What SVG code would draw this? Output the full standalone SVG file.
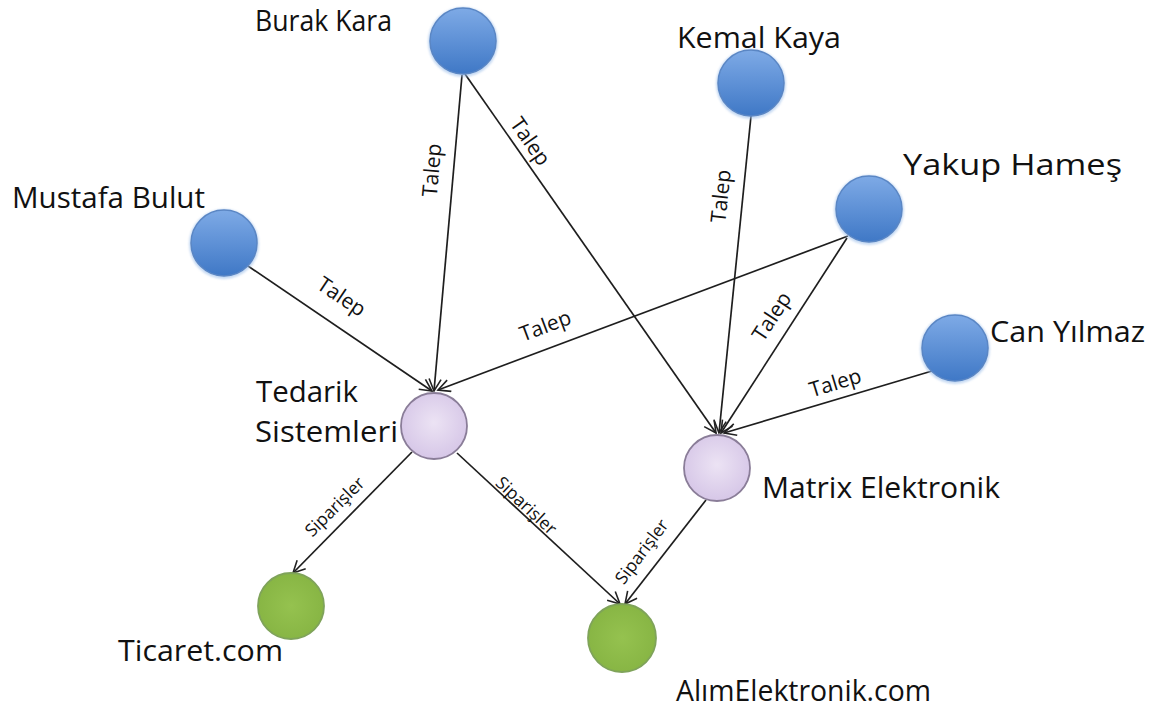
<svg xmlns="http://www.w3.org/2000/svg" width="1153" height="710" viewBox="0 0 1153 710">
  <defs>
    <linearGradient id="gBlue" x1="0" y1="0" x2="0" y2="1">
      <stop offset="0" stop-color="#7eaae6"/>
      <stop offset="1" stop-color="#3f78c6"/>
    </linearGradient>
    <radialGradient id="gPurple" cx="0.5" cy="0.45" r="0.6">
      <stop offset="0" stop-color="#ece3f4"/>
      <stop offset="1" stop-color="#d4c4e6"/>
    </radialGradient>
    <radialGradient id="gGreen" cx="0.5" cy="0.5" r="0.6">
      <stop offset="0" stop-color="#95c24f"/>
      <stop offset="1" stop-color="#85b342"/>
    </radialGradient>
    <filter id="soft" x="-30%" y="-30%" width="160%" height="160%">
      <feGaussianBlur stdDeviation="1.2"/>
    </filter>
    <marker id="arrow" markerWidth="16" markerHeight="16" refX="13" refY="7" orient="auto" markerUnits="userSpaceOnUse">
      <path d="M1,1 L13,7 L1,13" fill="none" stroke="#222" stroke-width="1.6"/>
    </marker>
  </defs>
  <style>
    .person { fill: url(#gBlue); stroke: #5a86c4; stroke-width: 1.5; }
    .halo { fill: #9fc0ea; opacity: 0.6; }
    .firm { fill: url(#gPurple); stroke: #8a7d98; stroke-width: 1.8; }
    .shop { fill: url(#gGreen); stroke: #7fa35a; stroke-width: 1.8; }
    .name { font-family: "Open Sans", "Liberation Sans", sans-serif; font-size: 29px; fill: #111; }
    .edge { stroke: #1e1e1e; stroke-width: 1.7; fill: none; marker-end: url(#arrow); }
    .elabel { font-family: "Open Sans", "Liberation Sans", sans-serif; fill: #111; text-anchor: middle; dominant-baseline: central; }
    .talep { font-size: 21px; }
    .sip { font-size: 17.5px; }
  </style>

  <rect width="1153" height="710" fill="#ffffff"/>

  <!-- connectors -->
  <g id="connectors">
    <line class="edge" x1="462" y1="75" x2="434" y2="391"/>
    <line class="edge" x1="465" y1="74" x2="716" y2="433"/>
    <line class="edge" x1="751" y1="116" x2="719" y2="433"/>
    <line class="edge" x1="848" y1="236" x2="438" y2="390"/>
    <line class="edge" x1="847" y1="238" x2="721" y2="433"/>
    <line class="edge" x1="248" y1="266" x2="432" y2="391"/>
    <line class="edge" x1="932" y1="371" x2="724" y2="433"/>
    <line class="edge" x1="412" y1="452" x2="293" y2="573"/>
    <line class="edge" x1="457" y1="453" x2="620" y2="604"/>
    <line class="edge" x1="706" y1="500" x2="625" y2="604"/>

    <text class="elabel talep" transform="translate(431,170) rotate(-85)">Talep</text>
    <text class="elabel talep" transform="translate(531,141) rotate(55)">Talep</text>
    <text class="elabel talep" transform="translate(720,196) rotate(-84)">Talep</text>
    <text class="elabel talep" transform="translate(545,325) rotate(-20.5)">Talep</text>
    <text class="elabel talep" transform="translate(771,316) rotate(-57)">Talep</text>
    <text class="elabel talep" transform="translate(342,296) rotate(34)">Talep</text>
    <text class="elabel talep" transform="translate(835,382) rotate(-17)">Talep</text>
    <text class="elabel sip" transform="translate(334,506) rotate(-45)">Siparişler</text>
    <text class="elabel sip" transform="translate(527,505) rotate(43)">Siparişler</text>
    <text class="elabel sip" transform="translate(641,551) rotate(-53)">Siparişler</text>
  </g>

  <!-- people -->
  <g id="burak-kara">
    <circle class="halo" cx="463" cy="42" r="35" filter="url(#soft)"/>
    <circle class="person" cx="463" cy="41" r="33"/>
    <text class="name" x="255" y="31" textLength="137" lengthAdjust="spacingAndGlyphs">Burak Kara</text>
  </g>
  <g id="kemal-kaya">
    <circle class="halo" cx="751" cy="84" r="35" filter="url(#soft)"/>
    <circle class="person" cx="751" cy="83" r="33"/>
    <text class="name" x="677" y="48" textLength="164" lengthAdjust="spacingAndGlyphs">Kemal Kaya</text>
  </g>
  <g id="yakup-hames">
    <circle class="halo" cx="869" cy="210" r="35" filter="url(#soft)"/>
    <circle class="person" cx="869" cy="209" r="33"/>
    <text class="name" x="903" y="175" font-size="31" textLength="219" lengthAdjust="spacingAndGlyphs">Yakup Hameş</text>
  </g>
  <g id="mustafa-bulut">
    <circle class="halo" cx="224" cy="244" r="35" filter="url(#soft)"/>
    <circle class="person" cx="224" cy="243" r="33"/>
    <text class="name" x="12" y="208" textLength="193" lengthAdjust="spacingAndGlyphs">Mustafa Bulut</text>
  </g>
  <g id="can-yilmaz">
    <circle class="halo" cx="955" cy="349" r="35" filter="url(#soft)"/>
    <circle class="person" cx="955" cy="348" r="33"/>
    <text class="name" x="990" y="342" textLength="155" lengthAdjust="spacingAndGlyphs">Can Yılmaz</text>
  </g>

  <!-- suppliers -->
  <g id="tedarik-sistemleri">
    <circle class="firm" cx="434" cy="426" r="33"/>
    <text class="name" x="256" y="402" textLength="102" lengthAdjust="spacingAndGlyphs">Tedarik</text>
    <text class="name" x="255" y="442" textLength="143" lengthAdjust="spacingAndGlyphs">Sistemleri</text>
  </g>
  <g id="matrix-elektronik">
    <circle class="firm" cx="717" cy="468" r="33"/>
    <text class="name" x="762" y="498" textLength="238" lengthAdjust="spacingAndGlyphs">Matrix Elektronik</text>
  </g>

  <!-- shops -->
  <g id="ticaret-com">
    <circle class="shop" cx="291" cy="606" r="33"/>
    <text class="name" x="118" y="661" textLength="165" lengthAdjust="spacingAndGlyphs">Ticaret.com</text>
  </g>
  <g id="alimelektronik-com">
    <circle class="shop" cx="622" cy="638" r="34"/>
    <text class="name" x="676" y="701" textLength="255" lengthAdjust="spacingAndGlyphs">AlımElektronik.com</text>
  </g>
</svg>
